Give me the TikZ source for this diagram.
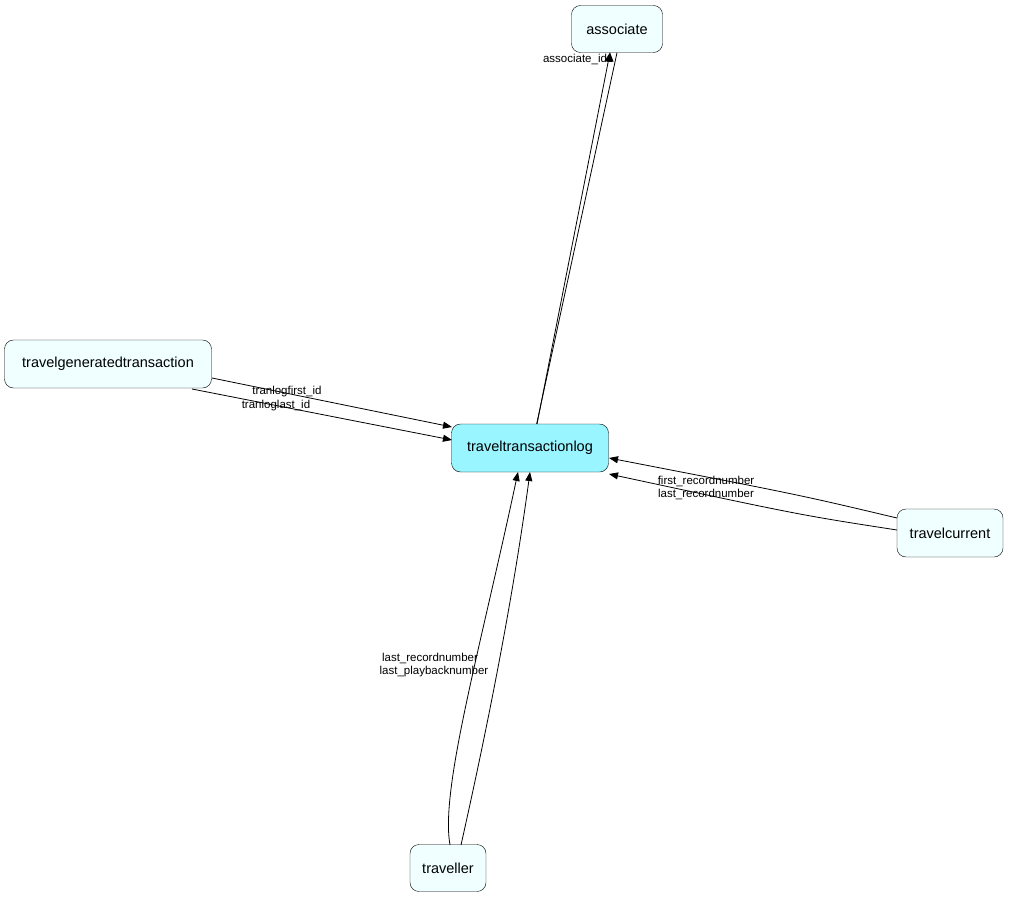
\documentclass[tikz,border=0pt]{standalone}
\usepackage{fontspec}
\setmainfont{Liberation Sans}
\usetikzlibrary{arrows.meta}
\definecolor{pale}{HTML}{F0FFFF}
\definecolor{hub}{HTML}{99F5FF}
\begin{document}
\begin{tikzpicture}[x=1pt,y=-1pt,
  ent/.style={draw=black,rounded corners=9pt,fill=pale,inner sep=0pt,font=\fontsize{14.5}{16}\selectfont},
  fk/.style={-{Triangle[length=9pt,width=7pt]},line width=0.8pt},
  lbl/.style={font=\fontsize{11.5}{12}\selectfont,inner sep=0pt}]
\useasboundingbox (0,0) rectangle (1009,899);
\node[ent,minimum width=91pt,minimum height=47pt] (as) at (617,29) {associate};
\node[ent,minimum width=207pt,minimum height=48pt] (tg) at (108,364) {travelgeneratedtransaction};
\node[ent,fill=hub,minimum width=157pt,minimum height=48pt] (tl) at (530,448) {traveltransactionlog};
\node[ent,minimum width=106pt,minimum height=48pt] (tc) at (950,533) {travelcurrent};
\node[ent,minimum width=76pt,minimum height=47pt] (tv) at (448,868) {traveller};
\draw[fk] (tl.north east) ++(-72,0) coordinate (a1) -- (as.south) ++(-7,0) coordinate (a2);
\draw[fk] (537,424) -- (610,52.5);
\node[lbl] at (575,59) {associate\_id};
\draw[fk] (212,378) -- (452,427);
\draw[fk] (192,389) -- (452,440);
\node[lbl] at (287,392) {tranlogfirst\_id};
\node[lbl] at (276,406) {tranloglast\_id};
\draw[fk] (897,518) .. controls (800,495) .. (609,458);
\draw[fk] (897,530) .. controls (800,515) .. (609,474);
\node[lbl] at (706,481) {first\_recordnumber};
\node[lbl] at (706,494) {last\_recordnumber};
\draw[fk] (450,845) .. controls (440,790) and (480,650) .. (518,472);
\draw[fk] (461,845) .. controls (480,760) and (510,620) .. (530,472);
\node[lbl] at (430,658) {last\_recordnumber};
\node[lbl] at (434,672) {last\_playbacknumber};
\end{tikzpicture}
\end{document}
